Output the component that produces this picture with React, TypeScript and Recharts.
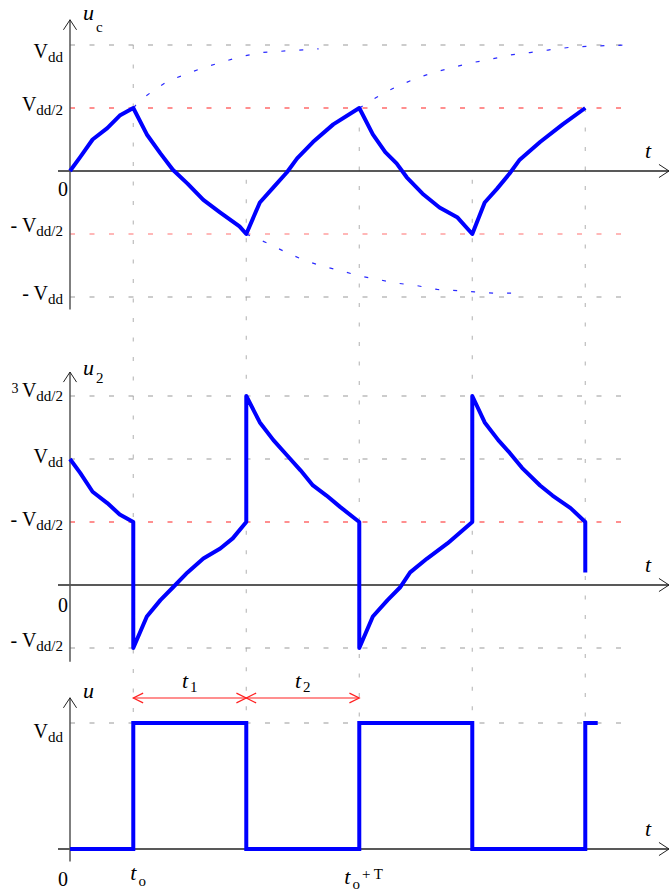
import { LineChart, Line, XAxis, YAxis, ReferenceLine, ReferenceDot } from 'recharts';

type Pt = [number, number];
type Tick = { v: number; lead?: string; main: string; sub?: string };

// time is measured in units of t1 (= t2 = T/2), voltages in units of Vdd
const edges = [0.56, 1.56, 2.56, 3.56, 4.56];
const guideTop = [1, -0.07, 0.5, -0.07, 0.5];

// capacitor voltage u_c
const ucCurve: Pt[] = [
  [0, 0], [0.09, 0.11], [0.2, 0.25], [0.33, 0.34], [0.44, 0.44], [0.56, 0.5],
  [0.68, 0.29], [0.8, 0.14], [0.91, 0.01], [1.04, -0.1], [1.18, -0.23], [1.33, -0.33], [1.5, -0.44], [1.56, -0.5],
  [1.68, -0.25], [1.8, -0.13], [1.92, -0.01], [2.01, 0.1], [2.15, 0.23], [2.33, 0.37], [2.56, 0.5],
  [2.68, 0.29], [2.79, 0.15], [2.89, 0.06], [2.98, -0.05], [3.12, -0.18], [3.27, -0.29], [3.43, -0.37], [3.56, -0.5],
  [3.67, -0.25], [3.78, -0.14], [3.89, -0.02], [3.98, 0.09], [4.16, 0.23], [4.36, 0.37], [4.56, 0.5],
];

// where the exponentials would head if not switched
const ucRiseTail1: Pt[] = [
  [0.56, 0.5], [0.62, 0.56], [0.71, 0.62], [0.86, 0.71], [1.0, 0.76], [1.18, 0.82],
  [1.33, 0.86], [1.48, 0.9], [1.68, 0.94], [1.86, 0.95], [2.2, 0.97],
];
const ucFallTail: Pt[] = [
  [1.56, -0.5], [1.74, -0.57], [1.9, -0.64], [2.05, -0.7], [2.21, -0.75], [2.39, -0.79], [2.55, -0.83],
  [2.72, -0.86], [2.89, -0.89], [3.07, -0.91], [3.25, -0.94], [3.43, -0.95], [3.58, -0.96], [3.76, -0.97], [3.92, -0.97],
];
const ucRiseTail2: Pt[] = [
  [2.56, 0.5], [2.74, 0.6], [2.89, 0.67], [3.05, 0.73], [3.21, 0.78], [3.38, 0.82], [3.56, 0.86],
  [3.74, 0.89], [3.89, 0.92], [4.07, 0.94], [4.23, 0.96], [4.41, 0.98], [4.58, 0.99], [4.93, 1.0],
];

// second inverter input u_2
const u2Curve: Pt[] = [
  [0, 1.0], [0.09, 0.89], [0.2, 0.74], [0.33, 0.65], [0.44, 0.56], [0.56, 0.5], [0.56, -0.5],
  [0.68, -0.25], [0.8, -0.12], [0.91, -0.02], [1.04, 0.1], [1.18, 0.21], [1.33, 0.29], [1.44, 0.37], [1.56, 0.5], [1.56, 1.5],
  [1.68, 1.29], [1.8, 1.15], [1.92, 1.03], [2.04, 0.91], [2.15, 0.79], [2.27, 0.71], [2.39, 0.62], [2.56, 0.5], [2.56, -0.5],
  [2.68, -0.25], [2.81, -0.12], [2.92, -0.02], [3.01, 0.1], [3.16, 0.21], [3.34, 0.33], [3.56, 0.5], [3.56, 1.5],
  [3.67, 1.29], [3.79, 1.15], [3.89, 1.05], [4.0, 0.93], [4.16, 0.79], [4.27, 0.71], [4.43, 0.61], [4.56, 0.5], [4.56, 0.1],
];

// square wave output u
const uPulse: Pt[] = [
  [0, 0], [0.56, 0], [0.56, 1], [1.56, 1], [1.56, 0], [2.56, 0], [2.56, 1],
  [3.56, 1], [3.56, 0], [4.56, 0], [4.56, 1], [4.67, 1],
];

const ucTicks: Tick[] = [
  { v: 1, main: 'V', sub: 'dd' },
  { v: 0.5, main: 'V', sub: 'dd/2' },
  { v: -0.5, lead: '- ', main: 'V', sub: 'dd/2' },
  { v: -1, lead: '- ', main: 'V', sub: 'dd' },
];
const u2Ticks: Tick[] = [
  { v: 1.5, lead: '3 ', main: 'V', sub: 'dd/2' },
  { v: 1, main: 'V', sub: 'dd' },
  { v: 0.5, lead: '- ', main: 'V', sub: 'dd/2' },
  { v: -0.5, lead: '- ', main: 'V', sub: 'dd/2' },
];
const uTicks: Tick[] = [{ v: 1, main: 'V', sub: 'dd' }];

// ---- layout ----
const W = 669;
const H = 893;
const ORIGIN_X = 70;
const PX_PER_T = 113;
const PX_PER_VDD = 126;
const BASE = { uc: 171, u2: 585, u: 849 };
const SERIF = "'Liberation Serif', 'Times New Roman', Times, serif";
const BLUE = '#0000ff';
const txt = { fontFamily: SERIF };

const xDomain: [number, number] = [-ORIGIN_X / PX_PER_T, (W - ORIGIN_X) / PX_PER_T];
const yDomain = (base: number): [number, number] => [(base - H) / PX_PER_VDD, base / PX_PER_VDD];
const U_ZERO_ON_UC = (BASE.uc - BASE.u) / PX_PER_VDD;
const X_AXIS_START = -12 / PX_PER_T;
const GUIDE_END = 4.9;
const TICK_X = -7 / PX_PER_T;

const ucTickDy = [13, 3, -2, 3];
const u2TickDy = [1, 4, 4, -1];
const uTickDy = [15];

const rows = (pts: Pt[]) => pts.map(([t, v]) => ({ t, v }));

const chevron = (x: number, y: number, ang: number, len: number, spread: number) => {
  const a = [x - len * Math.cos(ang - spread), y - len * Math.sin(ang - spread)];
  const b = [x - len * Math.cos(ang + spread), y - len * Math.sin(ang + spread)];
  return `${a[0]},${a[1]} ${x},${y} ${b[0]},${b[1]}`;
};

const ArrowLine = (p: any) => {
  const { x1, y1, x2, y2, stroke, strokeWidth } = p;
  const ang = Math.atan2(y2 - y1, x2 - x1);
  return (
    <g>
      <line x1={x1} y1={y1} x2={x2} y2={y2} stroke={stroke} strokeWidth={strokeWidth} />
      <polyline points={chevron(x2, y2, ang, 12, 0.58)} fill="none" stroke="#222" strokeWidth={1} />
    </g>
  );
};

const DoubleArrow = (p: any) => {
  const { x1, y1, x2, y2, stroke } = p;
  const ang = Math.atan2(y2 - y1, x2 - x1);
  return (
    <g>
      <line x1={x1} y1={y1} x2={x2} y2={y2} stroke={stroke} strokeWidth={1.2} />
      <polyline points={chevron(x2, y2, ang, 11, 0.46)} fill="none" stroke={stroke} strokeWidth={1.2} />
      <polyline points={chevron(x1, y1, ang + Math.PI, 11, 0.46)} fill="none" stroke={stroke} strokeWidth={1.2} />
    </g>
  );
};

const TickLabel = ({ cx, cy, tick, dy }: any) => {
  const digit = tick.lead && /\d/.test(tick.lead);
  return (
    <text x={cx} y={cy + dy} textAnchor="end" style={txt} fontSize={20} fill="#000">
      {tick.lead && (digit ? <tspan fontSize={14} dy={-4}>{tick.lead}</tspan> : <tspan>{tick.lead}</tspan>)}
      <tspan dy={digit ? 4 : 0}>{tick.main}</tspan>
      {tick.sub && <tspan fontSize={15} dy={4}>{tick.sub}</tspan>}
    </text>
  );
};

// italic symbol with an upright index, e.g. u_c, t_1
const Symbol = ({ cx, cy, main, sub, sup, dx = 0, dy = 0, anchor = 'start', subDy = 8 }: any) => (
  <text x={cx + dx} y={cy + dy} textAnchor={anchor} style={txt} fontSize={22} fill="#000">
    <tspan fontStyle="italic">{main}</tspan>
    {sub && <tspan fontSize={15} dx={2} dy={subDy}>{sub}</tspan>}
    {sup && <tspan fontSize={15} dx={2} dy={-subDy - 5}>{sup}</tspan>}
  </text>
);

const Plain = ({ cx, cy, text, dy }: any) => (
  <text x={cx} y={cy + dy} textAnchor="middle" style={txt} fontSize={20} fill="#000">
    {text}
  </text>
);

const panels = [
  { id: 'uc', ticks: ucTicks, dy: ucTickDy, axisLow: -1.1, axisHigh: 1.2, name: 'u', index: 'c', nameDy: 0, indexDy: 12 },
  { id: 'u2', ticks: u2Ticks, dy: u2TickDy, axisLow: -0.61, axisHigh: 1.69, name: 'u', index: '2', nameDy: 3, indexDy: 8 },
  { id: 'u', ticks: uTicks, dy: uTickDy, axisLow: -0.1, axisHigh: 1.2, name: 'u', index: '', nameDy: 0, indexDy: 0 },
];

const grayLevels: { id: string; v: number; end: number }[] = [
  { id: 'uc', v: 1, end: 4.94 },
  { id: 'uc', v: -1, end: GUIDE_END },
  { id: 'u2', v: 1.5, end: GUIDE_END },
  { id: 'u2', v: 1, end: GUIDE_END },
  { id: 'u2', v: -0.5, end: GUIDE_END },
  { id: 'u', v: 1, end: GUIDE_END },
];
const redLevels: { id: string; v: number; color: string }[] = [
  { id: 'uc', v: 0.5, color: '#ff2020' },
  { id: 'uc', v: -0.5, color: '#ff7070' },
  { id: 'u2', v: 0.5, color: '#ff2020' },
];

export default function App() {
  const arrowV = (BASE.u - 698) / PX_PER_VDD;
  return (
    <div style={{ position: 'absolute', left: 0, top: 0, width: W, height: H, background: '#fff', fontFamily: SERIF }}>
      <LineChart width={W} height={H} margin={{ top: 0, right: 0, bottom: 0, left: 0 }} style={txt}>
        <XAxis type="number" dataKey="t" domain={xDomain} allowDataOverflow hide />
        <YAxis yAxisId="uc" type="number" domain={yDomain(BASE.uc)} allowDataOverflow hide />
        <YAxis yAxisId="u2" type="number" domain={yDomain(BASE.u2)} allowDataOverflow hide />
        <YAxis yAxisId="u" type="number" domain={yDomain(BASE.u)} allowDataOverflow hide />

        {/* vertical switching guides through all three plots */}
        {edges.map((t, i) => (
          <ReferenceLine
            key={`vg${i}`}
            yAxisId="uc"
            segment={[{ x: t, y: guideTop[i] }, { x: t, y: U_ZERO_ON_UC }]}
            stroke="#bdbdbd"
            strokeWidth={1.2}
            strokeDasharray="4 15.5"
            ifOverflow="visible"
          />
        ))}

        {grayLevels.map((g, i) => (
          <ReferenceLine
            key={`hg${i}`}
            yAxisId={g.id}
            segment={[{ x: 0, y: g.v }, { x: g.end, y: g.v }]}
            stroke="#9a9a9a"
            strokeWidth={1.2}
            strokeDasharray="5 14.5"
            ifOverflow="visible"
          />
        ))}
        {redLevels.map((g, i) => (
          <ReferenceLine
            key={`hr${i}`}
            yAxisId={g.id}
            segment={[{ x: 0, y: g.v }, { x: GUIDE_END, y: g.v }]}
            stroke={g.color}
            strokeWidth={1.2}
            strokeDasharray="5 14.5"
            ifOverflow="visible"
          />
        ))}

        {/* axes with open arrow heads */}
        {panels.map((p) => (
          <ReferenceLine
            key={`xa-${p.id}`}
            yAxisId={p.id}
            segment={[{ x: X_AXIS_START, y: 0 }, { x: xDomain[1], y: 0 }]}
            stroke="#222"
            strokeWidth={1.4}
            ifOverflow="visible"
            shape={ArrowLine}
          />
        ))}
        {panels.map((p) => (
          <ReferenceLine
            key={`ya-${p.id}`}
            yAxisId={p.id}
            segment={[{ x: 0, y: p.axisLow }, { x: 0, y: p.axisHigh }]}
            stroke="#555"
            strokeWidth={1.5}
            ifOverflow="visible"
            shape={ArrowLine}
          />
        ))}

        <Line yAxisId="uc" data={rows(ucRiseTail1)} dataKey="v" type="linear" stroke="#2a2aff" strokeWidth={1.2} strokeDasharray="4 14" dot={false} activeDot={false} isAnimationActive={false} />
        <Line yAxisId="uc" data={rows(ucFallTail)} dataKey="v" type="linear" stroke="#2a2aff" strokeWidth={1.2} strokeDasharray="4 14" dot={false} activeDot={false} isAnimationActive={false} />
        <Line yAxisId="uc" data={rows(ucRiseTail2)} dataKey="v" type="linear" stroke="#2a2aff" strokeWidth={1.2} strokeDasharray="4 14" dot={false} activeDot={false} isAnimationActive={false} />
        <Line yAxisId="uc" data={rows(ucCurve)} dataKey="v" type="linear" stroke={BLUE} strokeWidth={4} strokeLinejoin="round" dot={false} activeDot={false} isAnimationActive={false} />
        <Line yAxisId="u2" data={rows(u2Curve)} dataKey="v" type="linear" stroke={BLUE} strokeWidth={4} strokeLinejoin="round" dot={false} activeDot={false} isAnimationActive={false} />
        <Line yAxisId="u" data={rows(uPulse)} dataKey="v" type="linear" stroke={BLUE} strokeWidth={4} strokeLinejoin="miter" dot={false} activeDot={false} isAnimationActive={false} />

        {/* t1 / t2 interval arrows */}
        <ReferenceLine yAxisId="u" segment={[{ x: edges[0], y: arrowV }, { x: edges[1], y: arrowV }]} stroke="#ff2020" ifOverflow="visible" shape={DoubleArrow} />
        <ReferenceLine yAxisId="u" segment={[{ x: edges[1], y: arrowV }, { x: edges[2], y: arrowV }]} stroke="#ff2020" ifOverflow="visible" shape={DoubleArrow} />
        <ReferenceDot yAxisId="u" x={(edges[0] + edges[1]) / 2} y={arrowV} ifOverflow="visible"
          shape={(p: any) => <Symbol {...p} main="t" sub="1" anchor="middle" dy={-10} subDy={4} />} />
        <ReferenceDot yAxisId="u" x={(edges[1] + edges[2]) / 2} y={arrowV} ifOverflow="visible"
          shape={(p: any) => <Symbol {...p} main="t" sub="2" anchor="middle" dy={-10} subDy={4} />} />

        {/* tick labels */}
        {panels.map((p) =>
          p.ticks.map((tk, i) => (
            <ReferenceDot key={`tk-${p.id}-${i}`} yAxisId={p.id} x={TICK_X} y={tk.v} ifOverflow="visible"
              shape={(s: any) => <TickLabel {...s} tick={tk} dy={p.dy[i]} />} />
          ))
        )}
        <ReferenceDot yAxisId="uc" x={TICK_X} y={0} ifOverflow="visible" shape={(s: any) => <Plain {...s} text="0" dy={25} />} />
        <ReferenceDot yAxisId="u2" x={TICK_X} y={0} ifOverflow="visible" shape={(s: any) => <Plain {...s} text="0" dy={27} />} />
        <ReferenceDot yAxisId="u" x={TICK_X} y={0} ifOverflow="visible" shape={(s: any) => <Plain {...s} text="0" dy={37} />} />

        {/* axis names */}
        {panels.map((p) => (
          <ReferenceDot key={`an-${p.id}`} yAxisId={p.id} x={0} y={p.axisHigh} ifOverflow="visible"
            shape={(s: any) => <Symbol {...s} main={p.name} sub={p.index} dx={13} dy={p.nameDy} subDy={p.indexDy} />} />
        ))}
        {panels.map((p) => (
          <ReferenceDot key={`tn-${p.id}`} yAxisId={p.id} x={xDomain[1]} y={0} ifOverflow="visible"
            shape={(s: any) => <Symbol {...s} main="t" dx={-24} dy={-13} />} />
        ))}

        {/* time marks under the square wave */}
        <ReferenceDot yAxisId="u" x={edges[0]} y={0} ifOverflow="visible"
          shape={(s: any) => <Symbol {...s} main="t" sub="o" dx={-3} dy={31} subDy={6} />} />
        <ReferenceDot yAxisId="u" x={edges[2]} y={0} ifOverflow="visible"
          shape={(s: any) => <Symbol {...s} main="t" sub="o" sup="+ T" dx={-15} dy={35} subDy={5} />} />
      </LineChart>
    </div>
  );
}
